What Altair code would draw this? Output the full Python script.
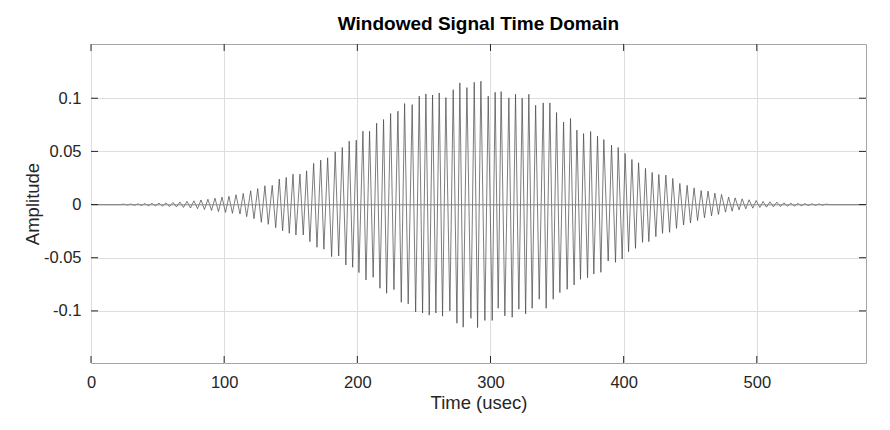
import altair as alt
import pandas as pd

# extrema of the windowed signal
time_us = [
    0.0, 22.0, 24.8, 27.4, 30.0, 32.7, 35.3, 37.9, 40.5, 43.2, 45.8, 48.4,
    51.1, 53.7, 56.3, 58.9, 61.6, 64.2, 66.8, 69.4, 72.1, 74.7, 77.3, 80.0,
    82.6, 85.2, 87.8, 90.5, 93.1, 95.7, 98.4, 101.0, 103.6, 106.2, 108.9, 111.9,
    114.3, 116.9, 119.9, 122.4, 125.2, 127.9, 130.6, 133.1, 136.1, 138.7, 141.4, 143.9,
    146.6, 148.9, 151.7, 153.9, 156.9, 159.4, 161.9, 164.4, 167.2, 169.7, 172.5, 174.9,
    177.7, 180.7, 183.4, 186.0, 188.7, 191.4, 193.9, 196.5, 199.2, 201.2, 204.2, 206.5,
    209.2, 211.9, 214.5, 217.0, 219.7, 222.0, 225.0, 227.5, 230.5, 233.0, 235.5, 238.2,
    241.2, 243.8, 246.5, 249.0, 251.5, 254.0, 256.5, 259.0, 261.5, 264.0, 266.5, 269.5,
    272.0, 274.8, 277.0, 279.5, 282.3, 285.3, 287.8, 290.3, 292.8, 295.8, 298.3, 301.3,
    303.5, 305.8, 308.0, 310.8, 313.8, 316.3, 318.8, 321.3, 323.8, 326.4, 328.8, 331.3,
    333.9, 336.6, 339.6, 341.8, 344.6, 347.1, 349.6, 352.1, 354.9, 357.6, 360.1, 362.8,
    364.9, 367.6, 369.9, 372.9, 375.2, 377.6, 380.4, 382.9, 385.1, 388.4, 390.9, 393.9,
    395.9, 398.9, 401.1, 403.7, 406.2, 408.9, 411.2, 414.2, 416.4, 418.9, 421.4, 424.2,
    426.4, 429.2, 431.7, 434.5, 436.9, 439.7, 442.2, 445.0, 447.7, 450.2, 452.9, 455.5,
    458.2, 460.7, 463.4, 466.0, 468.5, 471.2, 473.5, 476.5, 478.8, 481.5, 483.7, 486.7,
    489.0, 491.7, 494.2, 497.0, 499.5, 502.3, 504.7, 507.3, 509.8, 512.5, 515.0, 517.8,
    520.3, 523.1, 525.5, 528.3, 530.8, 533.6, 536.0, 538.8, 541.3, 544.1, 546.6, 549.3,
    551.8, 554.5, 582.0,
]
amplitude = [
    0.0, 0.0, 0.0004, -0.0004, 0.0005, -0.0006, 0.0007, -0.0008, 0.0009, -0.0010, 0.0011, -0.0012,
    0.0013, -0.0015, 0.0016, -0.0018, 0.0020, -0.0022, 0.0024, -0.0027, 0.0029, -0.0032, 0.0035, -0.0039,
    0.0043, -0.0047, 0.0050, -0.0055, 0.0060, -0.0066, 0.0070, -0.0074, 0.0078, -0.0082, 0.0092, -0.0089,
    0.0105, -0.0114, 0.0130, -0.0133, 0.0150, -0.0167, 0.0177, -0.0186, 0.0180, -0.0218, 0.0240, -0.0246,
    0.0255, -0.0270, 0.0286, -0.0286, 0.0286, -0.0286, 0.0317, -0.0349, 0.0387, -0.0402, 0.0418, -0.0420,
    0.0440, -0.0490, 0.0496, -0.0484, 0.0537, -0.0568, 0.0596, -0.0590, 0.0606, -0.0640, 0.0690, -0.0709,
    0.0690, -0.0684, 0.0765, -0.0787, 0.0800, -0.0834, 0.0856, -0.0800, 0.0878, -0.0919, 0.0950, -0.0934,
    0.0940, -0.1010, 0.1020, -0.1020, 0.1040, -0.1040, 0.1030, -0.1020, 0.1050, -0.1050, 0.1006, -0.1000,
    0.1080, -0.1116, 0.1144, -0.1153, 0.1100, -0.1070, 0.1150, -0.1157, 0.1160, -0.1090, 0.1020, -0.1090,
    0.1056, -0.0975, 0.1062, -0.1047, 0.1003, -0.1060, 0.1037, -0.0984, 0.1000, -0.1028, 0.1037, -0.0975,
    0.0934, -0.0890, 0.0956, -0.0975, 0.0956, -0.0890, 0.0866, -0.0828, 0.0775, -0.0797, 0.0810, -0.0756,
    0.0700, -0.0703, 0.0668, -0.0688, 0.0687, -0.0653, 0.0643, -0.0637, 0.0611, -0.0531, 0.0559, -0.0543,
    0.0537, -0.0512, 0.0480, -0.0443, 0.0424, -0.0412, 0.0393, -0.0355, 0.0340, -0.0349, 0.0302, -0.0302,
    0.0283, -0.0271, 0.0277, -0.0261, 0.0246, -0.0224, 0.0199, -0.0192, 0.0181, -0.0174, 0.0157, -0.0150,
    0.0132, -0.0124, 0.0126, -0.0106, 0.0107, -0.0093, 0.0095, -0.0071, 0.0070, -0.0062, 0.0063, -0.0049,
    0.0054, -0.0040, 0.0045, -0.0034, 0.0038, -0.0027, 0.0029, -0.0024, 0.0026, -0.0021, 0.0023, -0.0018,
    0.0016, -0.0016, 0.0013, -0.0014, 0.0011, -0.0011, 0.0009, -0.0009, 0.0007, -0.0007, 0.0006, -0.0005,
    0.0004, 0.0, 0.0,
]

x_ticks = [0, 100, 200, 300, 400, 500]
y_ticks = [-0.1, -0.05, 0, 0.05, 0.1]
x_domain = [0, 582]
y_domain = [-0.149, 0.151]

W, H = 775, 319
FONT = "Liberation Sans"

sig = pd.DataFrame({"t": time_us, "a": amplitude})
xt = pd.DataFrame({"t": x_ticks})
yt = pd.DataFrame({"a": y_ticks})

xs = alt.Scale(domain=x_domain, nice=False, zero=False)
ys = alt.Scale(domain=y_domain, nice=False, zero=False)
x_axis = alt.Axis(values=x_ticks, grid=True, ticks=False, domain=False,
                  labelFlush=False, labelPadding=11, titlePadding=3)
y_axis = alt.Axis(values=y_ticks, grid=True, ticks=False, domain=False,
                  labelExpr="'' + datum.value", labelPadding=10, titlePadding=1)
X = alt.X("t:Q", scale=xs, title="Time (usec)", axis=x_axis)
Y = alt.Y("a:Q", scale=ys, title="Amplitude", axis=y_axis)

line = alt.Chart(sig).mark_line(color="#454545", strokeWidth=0.7, clip=True).encode(x=X, y=Y)

zero = alt.Chart(yt).transform_filter("datum.a == 0").mark_rule(
    color="#8a8a8a", strokeWidth=0.8).encode(y=Y, x=alt.value(0), x2=alt.value(W))

TL = 7
bt = alt.Chart(xt).mark_rule(color="#262626", strokeWidth=1).encode(
    x=X, y=alt.value(H), y2=alt.value(H - TL))
tt = alt.Chart(xt).mark_rule(color="#262626", strokeWidth=1).encode(
    x=X, y=alt.value(0), y2=alt.value(TL))
lt = alt.Chart(yt).mark_rule(color="#262626", strokeWidth=1).encode(
    y=Y, x=alt.value(0), x2=alt.value(TL))
rt = alt.Chart(yt).mark_rule(color="#262626", strokeWidth=1).encode(
    y=Y, x=alt.value(W - TL), x2=alt.value(W))

chart = alt.layer(line, zero, bt, tt, lt, rt).properties(
    width=W, height=H,
    title=alt.TitleParams("Windowed Signal Time Domain", fontSize=19, fontWeight="bold",
                          font=FONT, color="#000000", offset=10, anchor="middle"),
    autosize=alt.AutoSizeParams(type="none"),
    padding={"left": 83, "top": 36, "right": 16, "bottom": 59},
).configure_view(stroke="#a6a6a6", strokeWidth=1).configure_axis(
    gridColor="#dedede", gridWidth=1,
    labelFont=FONT, labelFontSize=16.5, labelColor="#262626",
    titleFont=FONT, titleFontSize=18.5, titleColor="#262626", titleFontWeight="normal",
)

chart.save("out.html", embed_options={"renderer": "svg", "actions": False})
